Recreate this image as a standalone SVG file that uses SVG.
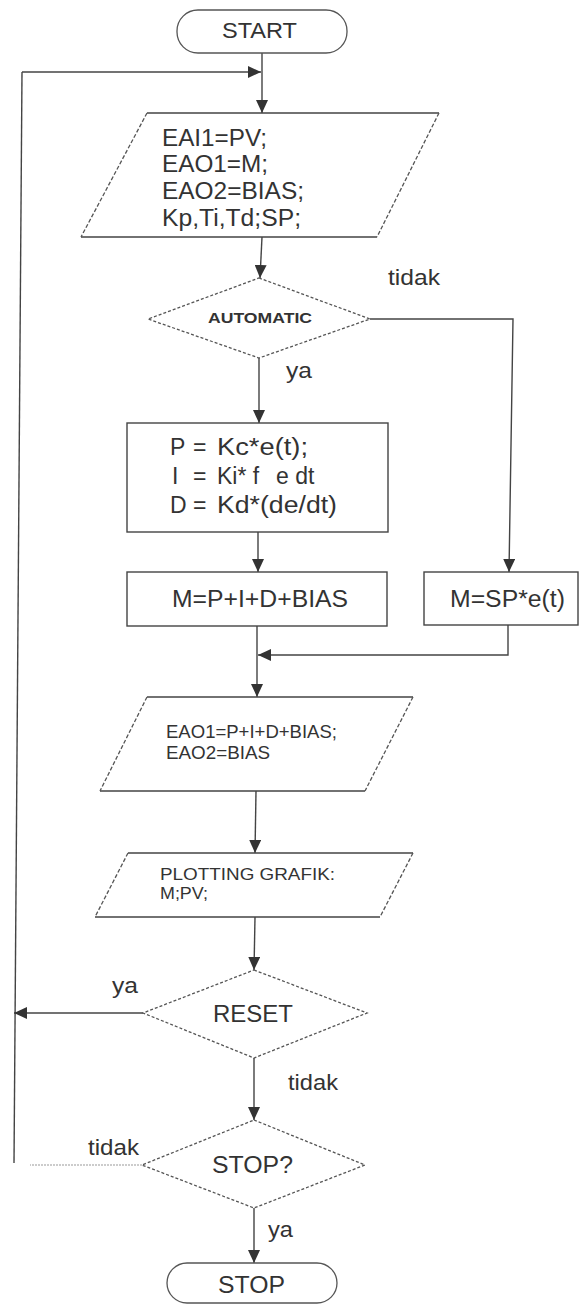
<svg xmlns="http://www.w3.org/2000/svg" width="581" height="1304" viewBox="0 0 581 1304">
<style>
text{font-family:"Liberation Sans",Arial,sans-serif;fill:#333}
.t24{font-size:23px}
.t22{font-size:22px}
.t18{font-size:18px}
.t16{font-size:16px}
.term{fill:#fff;stroke:#555;stroke-width:1.3}
.box{fill:#fff;stroke:#444;stroke-width:1.4}
.dia{fill:#fff;stroke:#555;stroke-width:1.3;stroke-dasharray:3 2}
.slant{fill:none;stroke:#555;stroke-width:1.3;stroke-dasharray:4 2}
.hor{fill:none;stroke:#444;stroke-width:1.4}
.con{fill:none;stroke:#444;stroke-width:1.4}
.faint{fill:none;stroke:#999;stroke-width:1.2;stroke-dasharray:2 1}
</style>
<defs>
<marker id="ah" markerUnits="userSpaceOnUse" markerWidth="14" markerHeight="12" refX="13" refY="6" orient="auto">
<path d="M0,0 L13,6 L0,12 Z" fill="#333"/>
</marker>
</defs>
<rect width="581" height="1304" fill="#fff"/>

<g id="connectors">
<path class="con" d="M262,53 L262,113" marker-end="url(#ah)"/>
<path class="con" d="M22,72 L261,72" marker-end="url(#ah)"/>
<path class="con" d="M22,72 L14,1163"/>
<path class="con" d="M262,237 L260,278" marker-end="url(#ah)"/>
<path class="con" d="M370,319 L513,319 L509,572" marker-end="url(#ah)"/>
<path class="con" d="M259,358 L259,423" marker-end="url(#ah)"/>
<path class="con" d="M258,532 L258,572" marker-end="url(#ah)"/>
<path class="con" d="M508,625 L508,655 L258,655" marker-end="url(#ah)"/>
<path class="con" d="M257,626 L257,697" marker-end="url(#ah)"/>
<path class="con" d="M256,791 L255,853" marker-end="url(#ah)"/>
<path class="con" d="M255,917 L254,970" marker-end="url(#ah)"/>
<path class="con" d="M143,1013 L14,1013" marker-end="url(#ah)"/>
<path class="con" d="M254,1058 L254,1120" marker-end="url(#ah)"/>
<path class="faint" d="M142,1165 L30,1165"/>
<path class="con" d="M254,1208 L254,1263" marker-end="url(#ah)"/>
<text class="t22" x="388" y="285" textLength="52" lengthAdjust="spacingAndGlyphs">tidak</text>
<text class="t22" x="286" y="378" textLength="26" lengthAdjust="spacingAndGlyphs">ya</text>
<text class="t22" x="112" y="993" textLength="26" lengthAdjust="spacingAndGlyphs">ya</text>
<text class="t22" x="288" y="1090" textLength="50" lengthAdjust="spacingAndGlyphs">tidak</text>
<text class="t22" x="88" y="1155" textLength="51" lengthAdjust="spacingAndGlyphs">tidak</text>
<text class="t22" x="268" y="1237" textLength="25" lengthAdjust="spacingAndGlyphs">ya</text>
</g>

<g id="start">
<rect class="term" x="177" y="10" width="170" height="43" rx="21"/>
<text class="t22" x="222" y="38" textLength="75" lengthAdjust="spacingAndGlyphs">START</text>
</g>

<g id="input1">
<polygon points="147,113 439,113 377,237 81,237" fill="#fff"/>
<path class="hor" d="M147,113 L439,113 M81,237 L377,237"/>
<path class="slant" d="M147,113 L81,237 M439,113 L377,237"/>
<text class="t24" x="162" y="146" textLength="105" lengthAdjust="spacingAndGlyphs">EAI1=PV;</text>
<text class="t24" x="162" y="172" textLength="106" lengthAdjust="spacingAndGlyphs">EAO1=M;</text>
<text class="t24" x="162" y="199" textLength="142" lengthAdjust="spacingAndGlyphs">EAO2=BIAS;</text>
<text class="t24" x="162" y="226" textLength="139" lengthAdjust="spacingAndGlyphs">Kp,Ti,Td;SP;</text>
</g>

<g id="automatic">
<polygon class="dia" points="259,278 370,319 259,358 148,319"/>
<text x="208" y="323" style="font-size:15px;font-weight:bold" textLength="104" lengthAdjust="spacingAndGlyphs">AUTOMATIC</text>
</g>

<g id="pid">
<rect class="box" x="127" y="423" width="261" height="109"/>
<text class="t24" y="455"><tspan x="170">P</tspan><tspan x="193">=</tspan><tspan x="217" textLength="91" lengthAdjust="spacingAndGlyphs">Kc*e(t);</tspan></text>
<text class="t24" y="484"><tspan x="172">I</tspan><tspan x="193">=</tspan><tspan x="217">Ki* f</tspan><tspan x="276">e dt</tspan></text>
<text class="t24" y="513"><tspan x="170">D</tspan><tspan x="193">=</tspan><tspan x="217" textLength="120" lengthAdjust="spacingAndGlyphs">Kd*(de/dt)</tspan></text>
</g>

<g id="m-auto">
<rect class="box" x="127" y="572" width="260" height="54"/>
<text class="t24" x="172" y="607" textLength="176" lengthAdjust="spacingAndGlyphs">M=P+I+D+BIAS</text>
</g>

<g id="m-manual">
<rect class="box" x="424" y="572" width="154" height="53"/>
<text class="t24" x="450" y="607" textLength="115" lengthAdjust="spacingAndGlyphs">M=SP*e(t)</text>
</g>

<g id="output1">
<polygon points="147,697 413,697 365,791 100,791" fill="#fff"/>
<path class="hor" d="M147,697 L413,697 M100,791 L365,791"/>
<path class="slant" d="M147,697 L100,791 M413,697 L365,791"/>
<text class="t18" x="166" y="738" textLength="171" lengthAdjust="spacingAndGlyphs">EAO1=P+I+D+BIAS;</text>
<text class="t18" x="166" y="759" textLength="104" lengthAdjust="spacingAndGlyphs">EAO2=BIAS</text>
</g>

<g id="plot">
<polygon points="128,853 413,853 380,917 95,917" fill="#fff"/>
<path class="hor" d="M128,853 L413,853 M95,917 L380,917"/>
<path class="slant" d="M128,853 L95,917 M413,853 L380,917"/>
<text class="t16" x="160" y="880" textLength="175" lengthAdjust="spacingAndGlyphs">PLOTTING GRAFIK:</text>
<text class="t16" x="160" y="899" textLength="48" lengthAdjust="spacingAndGlyphs">M;PV;</text>
</g>

<g id="reset">
<polygon class="dia" points="254,970 367,1013 254,1058 143,1013"/>
<text class="t24" x="213" y="1022" textLength="80" lengthAdjust="spacingAndGlyphs">RESET</text>
</g>

<g id="stopq">
<polygon class="dia" points="254,1120 365,1165 254,1208 142,1165"/>
<text class="t24" x="212" y="1173" textLength="81" lengthAdjust="spacingAndGlyphs">STOP?</text>
</g>

<g id="stop">
<rect class="term" x="167" y="1263" width="170" height="40" rx="20"/>
<text class="t24" x="218" y="1293" textLength="67" lengthAdjust="spacingAndGlyphs">STOP</text>
</g>
</svg>
